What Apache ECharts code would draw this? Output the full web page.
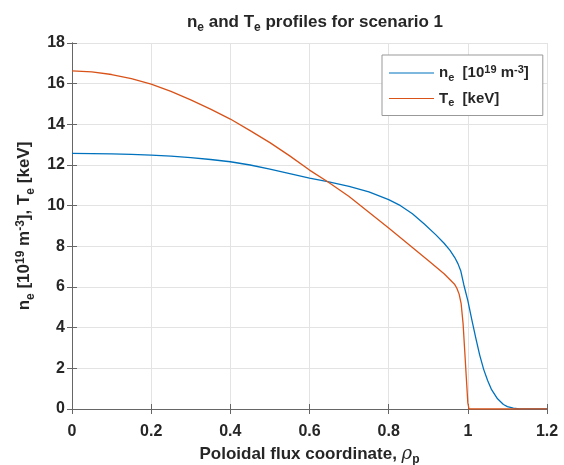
<!DOCTYPE html>
<html>
<head>
<meta charset="utf-8">
<script src="https://cdn.jsdelivr.net/npm/echarts@6/dist/echarts.min.js"></script>
<style>
html, body { margin: 0; padding: 0; background: #fff; }
#chart { width: 564px; height: 465px; }
</style>
</head>
<body>
<div id="chart"></div>
<script>
// rho_p positions and profile values
var ne_x = [0, 0.05, 0.1, 0.15, 0.2, 0.25, 0.3, 0.35, 0.4, 0.45, 0.5, 0.55, 0.6, 0.646, 0.7, 0.75, 0.8, 0.83, 0.86, 0.89, 0.92, 0.94, 0.955, 0.967, 0.975, 0.982, 0.99, 1.0, 1.01, 1.02, 1.03, 1.04, 1.05, 1.06, 1.075, 1.09, 1.1, 1.115, 1.13, 1.15, 1.2];
var ne_y = [12.57, 12.56, 12.55, 12.52, 12.49, 12.44, 12.36, 12.27, 12.16, 12.0, 11.8, 11.58, 11.36, 11.18, 10.95, 10.68, 10.3, 10.0, 9.6, 9.1, 8.55, 8.15, 7.8, 7.45, 7.15, 6.8, 6.1, 5.33, 4.4, 3.5, 2.65, 1.95, 1.4, 0.95, 0.5, 0.22, 0.12, 0.04, 0.01, 0, 0];
var te_x = [0, 0.05, 0.1, 0.15, 0.2, 0.25, 0.3, 0.35, 0.4, 0.45, 0.5, 0.55, 0.6, 0.646, 0.7, 0.75, 0.8, 0.85, 0.9, 0.94, 0.967, 0.972, 0.978, 0.983, 0.988, 0.992, 0.996, 1.0, 1.003, 1.2];
var te_y = [16.63, 16.58, 16.45, 16.25, 15.98, 15.62, 15.2, 14.75, 14.26, 13.69, 13.1, 12.45, 11.75, 11.18, 10.45, 9.68, 8.9, 8.1, 7.3, 6.65, 6.12, 5.95, 5.65, 5.2, 4.2, 2.9, 1.6, 0.3, 0, 0];

var ne_data = [];
for (let i = 0; i < ne_x.length; i++) ne_data.push([ne_x[i], ne_y[i]]);
var te_data = [];
for (let i = 0; i < te_x.length; i++) te_data.push([te_x[i], te_y[i]]);

var font = 'Liberation Sans, Arial, sans-serif';
var txt = '#262626';
function st(size, extra) {
    var s = { fontSize: size, fontWeight: 'bold', fontFamily: font, color: txt };
    for (var k in extra) s[k] = extra[k];
    return s;
}

var myChart = echarts.init(document.getElementById('chart'));
var chart_option = {
    animation: false,
    title: {
        text: '{b|n}{s|e}{b| and T}{s|e}{b| profiles for scenario 1}',
        left: 310,
        textAlign: 'center',
        top: 6,
        textStyle: { rich: { b: st(17), s: st(12, { padding: [11, 0, 0, 0] }) } }
    },
    legend: {
        orient: 'vertical',
        left: 382,
        top: 55,
        backgroundColor: '#fff',
        borderColor: '#999',
        borderWidth: 1,
        padding: [9, 14, 7, 7],
        itemGap: 8,
        itemWidth: 45,
        itemHeight: 10,
        icon: 'path://M0,4.5 L45,4.5 L45,5.5 L0,5.5 Z',
        formatter: function(name) {
            if (name == 'ne') return '{b|n}{s|e}{b|  [10}{p|19}{b| m}{p|-3}{b|]}';
            return '{b|T}{s|e}{b|  [keV]}';
        },
        textStyle: {
            rich: {
                b: st(15),
                s: st(11, { padding: [9, 0, 0, 0] }),
                p: st(11, { padding: [0, 0, 7, 0] })
            }
        },
        data: ['ne', 'Te']
    },
    grid: { left: 72, right: 17, top: 43, bottom: 56, outerBoundsMode: 'none' },
    xAxis: [{
        type: 'value',
        min: 0, max: 1.2, interval: 0.2,
        name: '{b|Poloidal flux coordinate, }{r|\u03c1}{s|p}',
        nameLocation: 'middle',
        nameGap: 34,
        nameTextStyle: { rich: { b: st(17), r: { fontSize: 18, fontStyle: 'italic', fontFamily: 'DejaVu Serif, serif', color: txt }, s: st(12, { padding: [11, 0, 0, 0] }) } },
        axisLine: { show: true, lineStyle: { color: '#666', width: 1 } },
        axisTick: { show: true, inside: true, length: 5, lineStyle: { color: '#666' } },
        axisLabel: st(16, { margin: 15 }),
        splitLine: { show: true, lineStyle: { color: '#e3e3e3' } }
    }, {
        type: 'value', position: 'top',
        min: 0, max: 1.2, interval: 0.2,
        axisLine: { show: true, lineStyle: { color: '#666', width: 1 } },
        axisTick: { show: true, inside: true, length: 5, lineStyle: { color: '#666' } },
        axisLabel: { show: false },
        splitLine: { show: false }
    }],
    yAxis: [{
        type: 'value',
        min: 0, max: 18, interval: 2,
        name: '{b|n}{s|e}{b| [10}{p|19}{b| m}{p|-3}{b|], T}{s|e}{b| [keV]}',
        nameLocation: 'middle',
        nameRotate: 90,
        nameGap: 34,
        nameTextStyle: { rich: { b: st(17), s: st(12, { padding: [11, 0, 0, 0] }), p: st(12, { padding: [0, 0, 8, 0] }) } },
        axisLine: { show: true, lineStyle: { color: '#666', width: 1 } },
        axisTick: { show: true, inside: true, length: 5, lineStyle: { color: '#666' } },
        axisLabel: st(16, { margin: 7 }),
        splitLine: { show: true, lineStyle: { color: '#e3e3e3' } }
    }, {
        type: 'value', position: 'right',
        min: 0, max: 18, interval: 2,
        axisLine: { show: true, lineStyle: { color: '#666', width: 1 } },
        axisTick: { show: true, inside: true, length: 5, lineStyle: { color: '#666' } },
        axisLabel: { show: false },
        splitLine: { show: false }
    }],
    series: [{
        name: 'ne',
        type: 'line',
        data: ne_data,
        showSymbol: false,
        lineStyle: { color: '#0072BD', width: 1.3 },
        itemStyle: { color: '#0072BD' }
    }, {
        name: 'Te',
        type: 'line',
        data: te_data,
        showSymbol: false,
        lineStyle: { color: '#D95319', width: 1.3 },
        itemStyle: { color: '#D95319' }
    }]
};
myChart.setOption(chart_option);
</script>
</body>
</html>
